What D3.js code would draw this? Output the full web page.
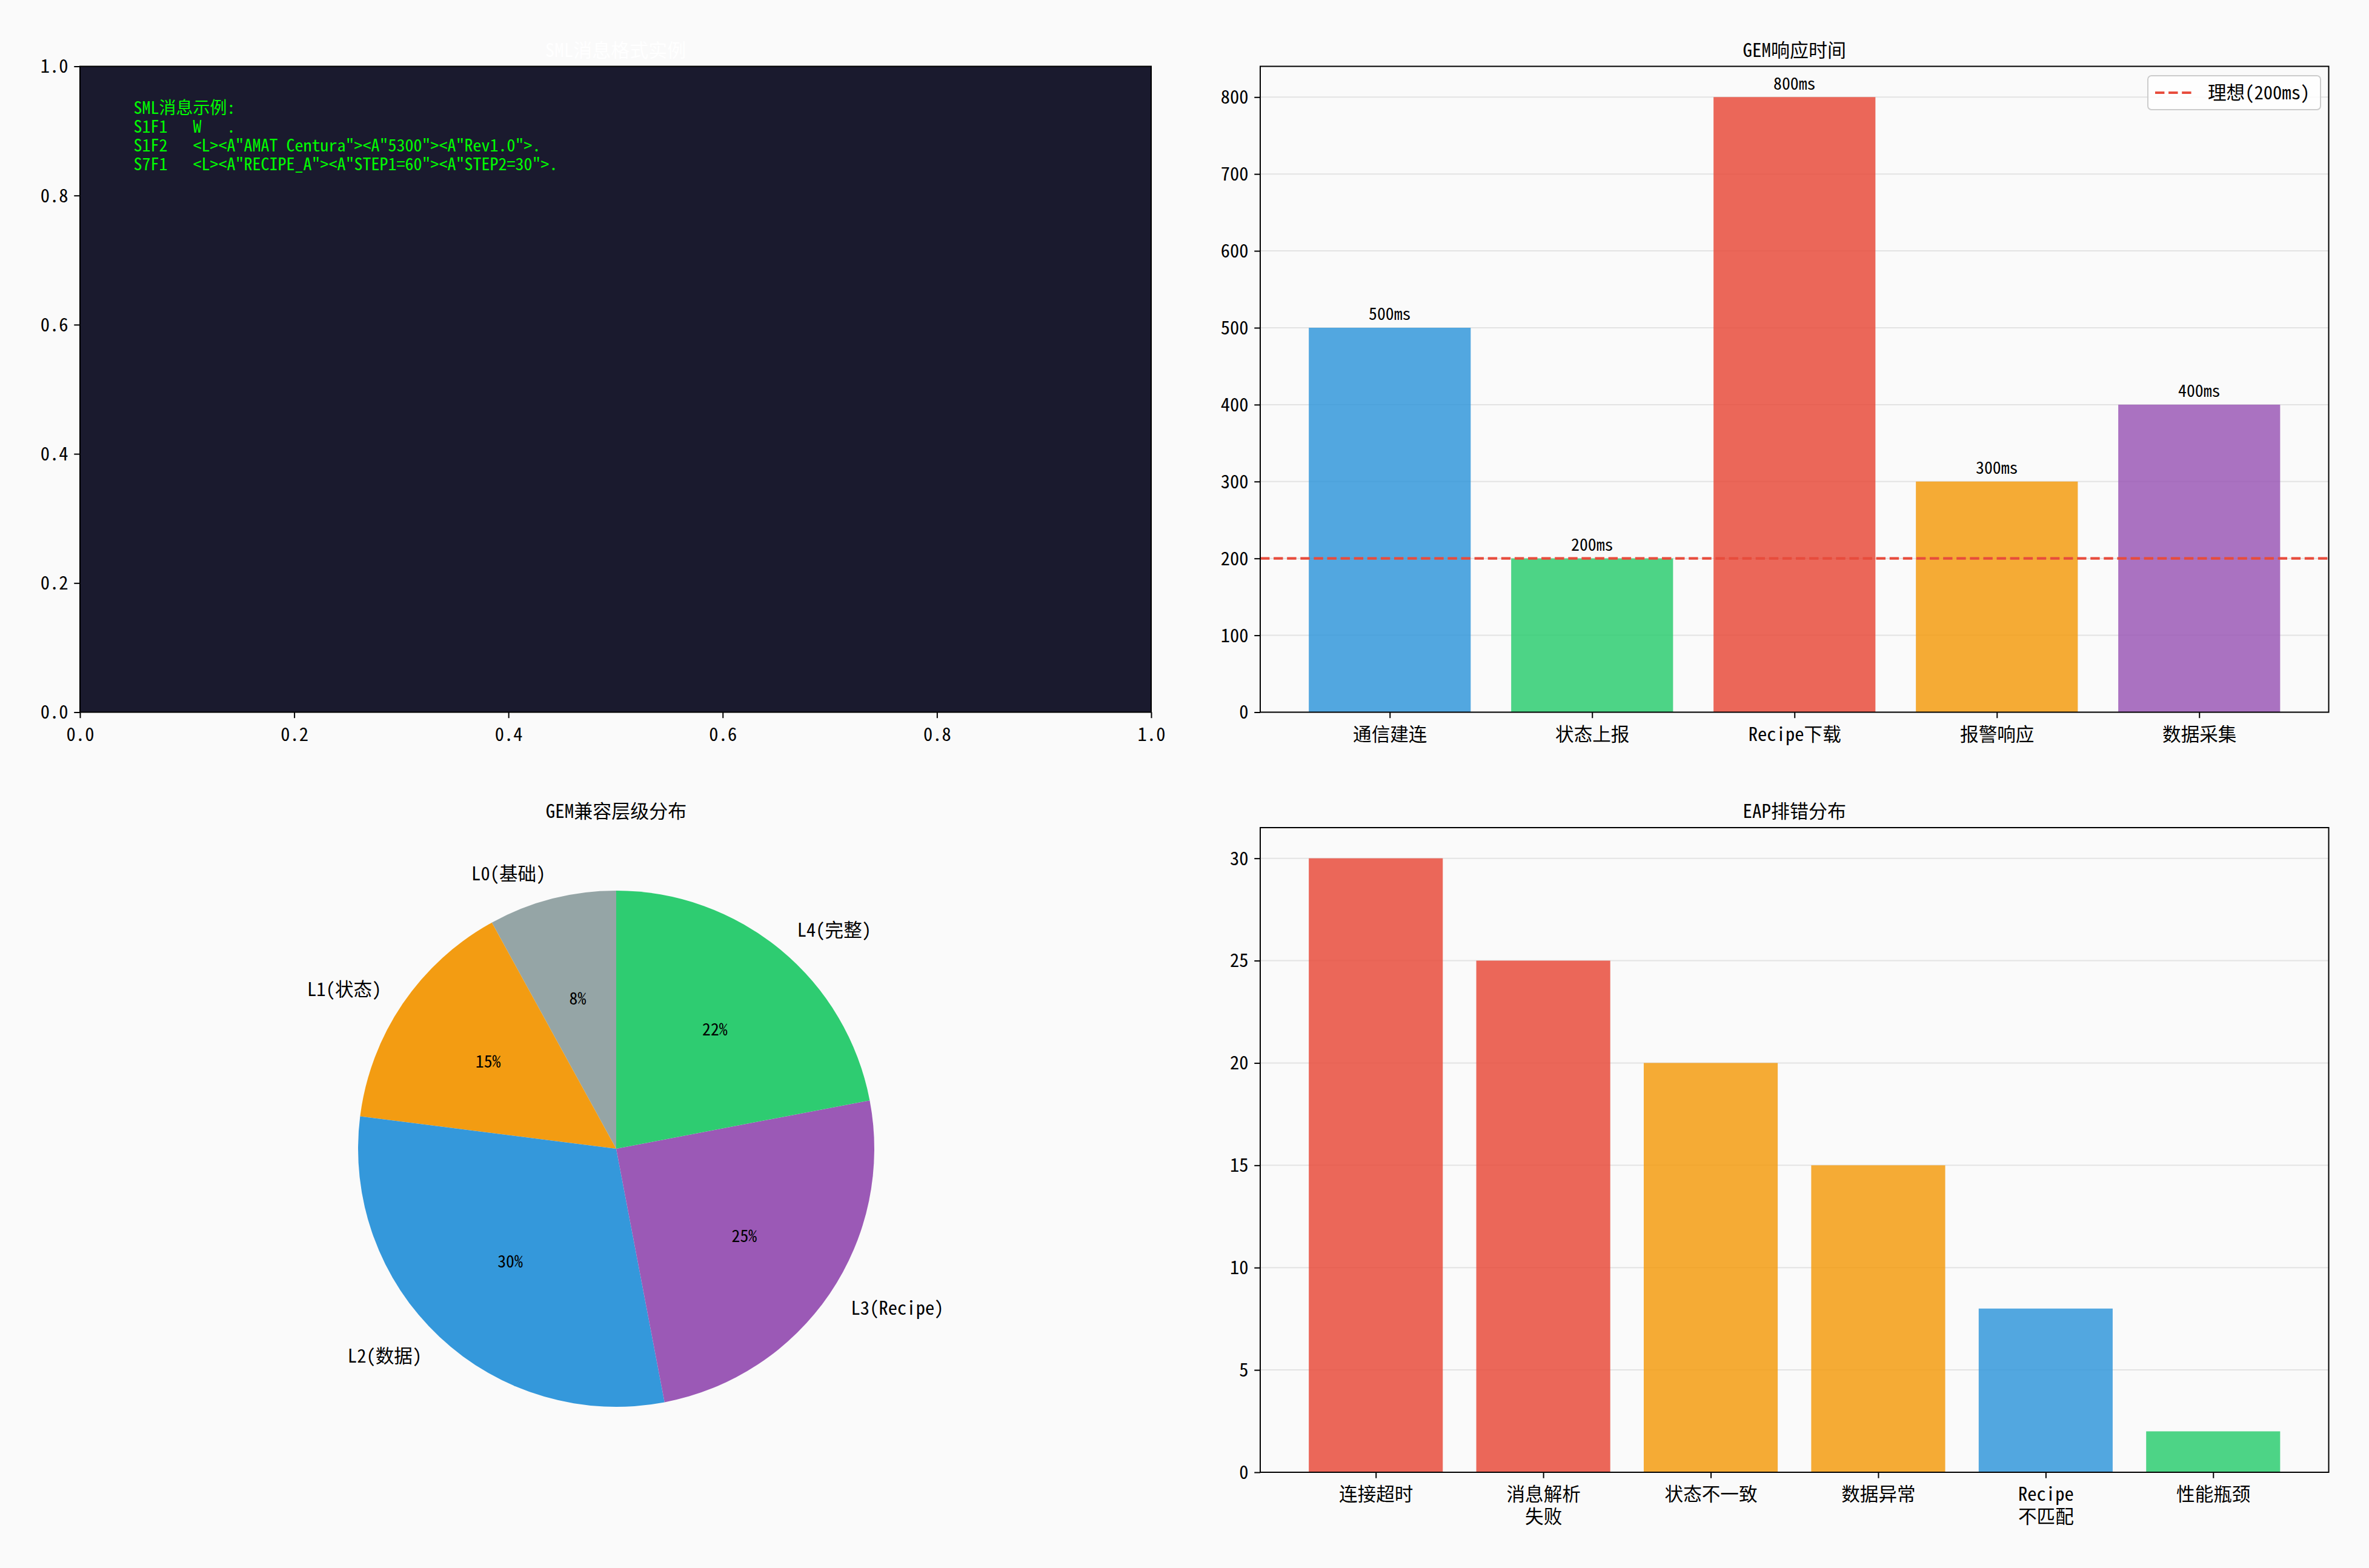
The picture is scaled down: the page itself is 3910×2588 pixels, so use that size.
<!DOCTYPE html>
<html>
<head>
<meta charset="utf-8">
<script src="https://cdn.jsdelivr.net/npm/d3@7"></script>
<style>
html,body{margin:0;padding:0;background:#fafafa;}
svg{display:block;}
</style>
</head>
<body>
<script>
// ---------------- DATA ----------------
const smlTitle = "SML消息格式实例";
const smlLines = [
  "SML消息示例:",
  "S1F1   W   .",
  "S1F2   <L><A\"AMAT Centura\"><A\"5300\"><A\"Rev1.0\">.",
  "S7F1   <L><A\"RECIPE_A\"><A\"STEP1=60\"><A\"STEP2=30\">."
];
const unitTicks = [0, 0.2, 0.4, 0.6, 0.8, 1.0];

const gemTitle = "GEM响应时间";
const gemCategories = ["通信建连", "状态上报", "Recipe下载", "报警响应", "数据采集"];
const gemValues = [500, 200, 800, 300, 400];
const gemColors = ["#3498db", "#2ecc71", "#e74c3c", "#f39c12", "#9b59b6"];
const gemTicks = [0, 100, 200, 300, 400, 500, 600, 700, 800];
const idealValue = 200;
const idealLabel = "理想(200ms)";

const pieTitle = "GEM兼容层级分布";
const pieLabels = ["L0(基础)", "L1(状态)", "L2(数据)", "L3(Recipe)", "L4(完整)"];
const pieValues = [8, 15, 30, 25, 22];
const pieColors = ["#95a5a6", "#f39c12", "#3498db", "#9b59b6", "#2ecc71"];

const eapTitle = "EAP排错分布";
const eapCategories = ["连接超时", "消息解析\n失败", "状态不一致", "数据异常", "Recipe\n不匹配", "性能瓶颈"];
const eapValues = [30, 25, 20, 15, 8, 2];
const eapColors = ["#e74c3c", "#e74c3c", "#f39c12", "#f39c12", "#3498db", "#2ecc71"];
const eapTicks = [0, 5, 10, 15, 20, 25, 30];

// ---------------- SETUP ----------------
const W = 3910, H = 2588;
const FONT = "'Noto Sans Mono CJK SC','Noto Sans CJK SC','DejaVu Sans',sans-serif";
const TICK_FS = 30.6, SMALL_FS = 27.8, TITLE_FS = 31, SML_FS = 28;
const TICK_LEN = 9.7, TICK_PAD = 9.7, SPINE_W = 2;

const svg = d3.select("body").append("svg")
  .attr("width", W).attr("height", H)
  .attr("viewBox", `0 0 ${W} ${H}`)
  .style("font-family", FONT);

svg.append("rect").attr("width", W).attr("height", H).attr("fill", "#fafafa");

function styleAxis(g, fs) {
  g.select(".domain").remove();
  g.selectAll(".tick line").attr("stroke", "#000").attr("stroke-width", SPINE_W);
  g.selectAll(".tick text").attr("fill", "#000").style("font-size", fs + "px").style("font-family", FONT);
}

function spines(g, x0, y0, x1, y1) {
  g.append("rect").attr("x", x0).attr("y", y0).attr("width", x1 - x0).attr("height", y1 - y0)
    .attr("fill", "none").attr("stroke", "#000").attr("stroke-width", SPINE_W);
}

function title(text, cx, yTop, color) {
  svg.append("text").attr("x", cx).attr("y", yTop - 16)
    .attr("text-anchor", "middle").attr("fill", color || "#000")
    .style("font-size", TITLE_FS + "px").text(text);
}

function bottomAxis(g, scale, values, fmt, y, fs) {
  const ax = g.append("g").attr("transform", `translate(0,${y})`)
    .call(d3.axisBottom(scale).tickValues(values).tickFormat(fmt).tickSize(TICK_LEN).tickPadding(TICK_PAD));
  styleAxis(ax, fs);
  ax.selectAll(".tick text").each(function (d) {
    const t = d3.select(this);
    const lines = String(fmt(d)).split("\n");
    t.text(null).attr("dy", null);
    lines.forEach((ln, i) => {
      t.append("tspan").attr("x", 0).attr("dy", i === 0 ? "0.91em" : "1.2em").text(ln);
    });
  });
  return ax;
}

function leftAxis(g, scale, values, fmt, x, fs) {
  const ax = g.append("g").attr("transform", `translate(${x},0)`)
    .call(d3.axisLeft(scale).tickValues(values).tickFormat(fmt).tickSize(TICK_LEN).tickPadding(TICK_PAD));
  styleAxis(ax, fs);
  ax.selectAll(".tick text").attr("dy", "0.34em");
  return ax;
}

// ---------------- PANEL 1: SML (top-left) ----------------
(function () {
  const x0 = 132, x1 = 1900, y0 = 109.5, y1 = 1175.5;
  const g = svg.append("g");
  const x = d3.scaleLinear().domain([0, 1]).range([x0, x1]);
  const y = d3.scaleLinear().domain([0, 1]).range([y1, y0]);
  g.append("rect").attr("x", x0).attr("y", y0).attr("width", x1 - x0).attr("height", y1 - y0).attr("fill", "#1a1a2e");
  const txt = g.append("text").attr("fill", "#00ff00")
    .style("font-size", SML_FS + "px").style("white-space", "pre").attr("xml:space", "preserve");
  smlLines.forEach((ln, i) => {
    txt.append("tspan").attr("x", x(0.05)).attr("y", y(0.95) + 25 + i * 31).text(ln);
  });
  spines(g, x0, y0, x1, y1);
  bottomAxis(g, x, unitTicks, d3.format(".1f"), y1, TICK_FS);
  leftAxis(g, y, unitTicks, d3.format(".1f"), x0, TICK_FS);
  title(smlTitle, (x0 + x1) / 2, y0, "#ffffff");
})();

// ---------------- PANEL 2: GEM response (top-right) ----------------
(function () {
  const x0 = 2080, x1 = 3843.5, y0 = 109.5, y1 = 1175.5;
  const g = svg.append("g");
  const n = gemCategories.length;
  const span = (n - 1) + 0.8, m = 0.05 * span;
  const x = d3.scaleLinear().domain([-0.4 - m, n - 1 + 0.4 + m]).range([x0, x1]);
  const y = d3.scaleLinear().domain([0, d3.max(gemValues) * 1.05]).range([y1, y0]);
  g.selectAll("line.grid").data(gemTicks).enter().append("line")
    .attr("x1", x0).attr("x2", x1).attr("y1", d => y(d)).attr("y2", d => y(d))
    .attr("stroke", "#b0b0b0").attr("stroke-opacity", 0.3).attr("stroke-width", 2);
  g.selectAll("rect.bar").data(gemValues).enter().append("rect")
    .attr("x", (d, i) => x(i - 0.4)).attr("width", (d, i) => x(i + 0.4) - x(i - 0.4))
    .attr("y", d => y(d)).attr("height", d => y(0) - y(d))
    .attr("fill", (d, i) => gemColors[i]).attr("fill-opacity", 0.85);
  g.append("line").attr("x1", x0).attr("x2", x1).attr("y1", y(idealValue)).attr("y2", y(idealValue))
    .attr("stroke", "#e74c3c").attr("stroke-width", 4.2).attr("stroke-dasharray", "15.4,6.7");
  g.selectAll("text.val").data(gemValues).enter().append("text")
    .attr("x", (d, i) => x(i)).attr("y", d => y(d + 10)).attr("text-anchor", "middle")
    .attr("fill", "#000").style("font-size", SMALL_FS + "px").text(d => d + "ms");
  spines(g, x0, y0, x1, y1);
  bottomAxis(g, x, d3.range(n), i => gemCategories[i], y1, TICK_FS);
  leftAxis(g, y, gemTicks, d3.format("d"), x0, TICK_FS);
  const lg = g.append("g");
  lg.append("rect").attr("x", 3545).attr("y", 125).attr("width", 285).attr("height", 56)
    .attr("rx", 6).attr("ry", 6).attr("fill", "#ffffff").attr("fill-opacity", 0.8)
    .attr("stroke", "#cccccc").attr("stroke-width", 2);
  lg.append("line").attr("x1", 3557).attr("x2", 3619).attr("y1", 153).attr("y2", 153)
    .attr("stroke", "#e74c3c").attr("stroke-width", 4.2).attr("stroke-dasharray", "15.4,6.7");
  lg.append("text").attr("x", 3644).attr("y", 153).attr("dy", "0.36em").attr("fill", "#000")
    .style("font-size", TICK_FS + "px").text(idealLabel);
  title(gemTitle, (x0 + x1) / 2, y0);
})();

// ---------------- PANEL 3: Pie (bottom-left) ----------------
(function () {
  const cx = 1017, cy = 1896, r = 426;
  const g = svg.append("g").attr("transform", `translate(${cx},${cy})`);
  const pie = d3.pie().sort(null).startAngle(0).endAngle(-2 * Math.PI);
  const arcs = pie(pieValues);
  const arc = d3.arc().innerRadius(0).outerRadius(r);
  g.selectAll("path").data(arcs).enter().append("path")
    .attr("d", arc).attr("fill", (d, i) => pieColors[i]);
  const total = d3.sum(pieValues);
  arcs.forEach((a, i) => {
    const mid = (a.startAngle + a.endAngle) / 2;
    const sx = Math.sin(mid), sy = -Math.cos(mid);
    g.append("text").attr("x", sx * r * 0.6).attr("y", sy * r * 0.6).attr("dy", "0.36em")
      .attr("text-anchor", "middle").attr("fill", "#000").style("font-size", SMALL_FS + "px")
      .text(Math.round(pieValues[i] / total * 100) + "%");
    g.append("text").attr("x", sx * r * 1.1).attr("y", sy * r * 1.1).attr("dy", "0.36em")
      .attr("text-anchor", sx > 0 ? "start" : "end").attr("fill", "#000").style("font-size", TICK_FS + "px")
      .text(pieLabels[i]);
  });
  title(pieTitle, cx, 1366);
})();

// ---------------- PANEL 4: EAP troubleshooting (bottom-right) ----------------
(function () {
  const x0 = 2080, x1 = 3843.5, y0 = 1366, y1 = 2430;
  const g = svg.append("g");
  const n = eapCategories.length;
  const span = (n - 1) + 0.8, m = 0.05 * span;
  const x = d3.scaleLinear().domain([-0.4 - m, n - 1 + 0.4 + m]).range([x0, x1]);
  const y = d3.scaleLinear().domain([0, d3.max(eapValues) * 1.05]).range([y1, y0]);
  g.selectAll("line.grid").data(eapTicks).enter().append("line")
    .attr("x1", x0).attr("x2", x1).attr("y1", d => y(d)).attr("y2", d => y(d))
    .attr("stroke", "#b0b0b0").attr("stroke-opacity", 0.3).attr("stroke-width", 2);
  g.selectAll("rect.bar").data(eapValues).enter().append("rect")
    .attr("x", (d, i) => x(i - 0.4)).attr("width", (d, i) => x(i + 0.4) - x(i - 0.4))
    .attr("y", d => y(d)).attr("height", d => y(0) - y(d))
    .attr("fill", (d, i) => eapColors[i]).attr("fill-opacity", 0.85);
  spines(g, x0, y0, x1, y1);
  bottomAxis(g, x, d3.range(n), i => eapCategories[i], y1, TICK_FS);
  leftAxis(g, y, eapTicks, d3.format("d"), x0, TICK_FS);
  title(eapTitle, (x0 + x1) / 2, y0);
})();
</script>
</body>
</html>
